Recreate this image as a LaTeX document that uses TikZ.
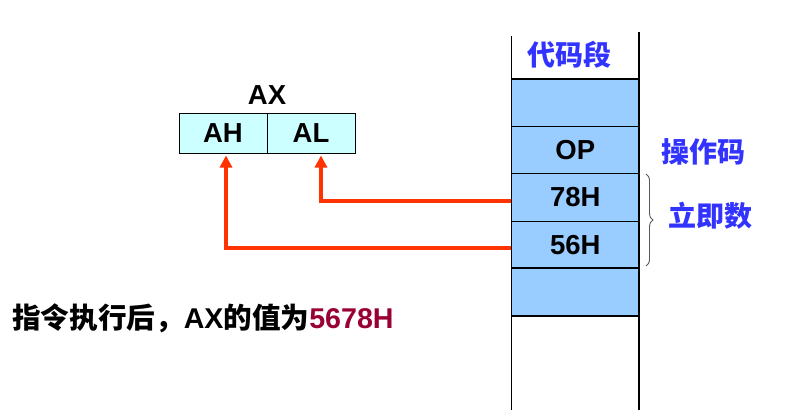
\documentclass[tikz,border=0pt]{standalone}
\usepackage{fontspec}
\setmainfont{Liberation Sans}
\newfontfamily\cjk{Noto Sans CJK SC}
\usetikzlibrary{arrows.meta,decorations.pathreplacing,calc}
\definecolor{cellblue}{HTML}{99CCFF}
\definecolor{axcyan}{HTML}{CCFFFF}
\definecolor{labelblue}{HTML}{3333FF}
\definecolor{arrowred}{HTML}{FF3300}
\definecolor{valred}{HTML}{990033}
\tikzset{
  cell/.style={draw=black, line width=1.3pt, fill=cellblue, minimum width=127.5pt, minimum height=47.4pt, inner sep=0pt, font=\fontsize{27.5}{30}\selectfont\bfseries},
  regbox/.style={draw=black, line width=1pt, fill=axcyan, minimum width=88pt, minimum height=40pt, inner sep=0pt, font=\fontsize{27.5}{30}\selectfont\bfseries},
  latinlabel/.style={inner sep=0pt, font=\fontsize{27.5}{30}\selectfont\bfseries},
  cjklabel/.style={inner sep=0pt, text=labelblue, font=\fontsize{28}{32}\selectfont\cjk\bfseries},
  redarrow/.style={draw=arrowred, line width=4pt, -{Triangle[width=12pt,length=12pt]}},
  colline/.style={draw=black, line width=1.5pt}
}
\begin{document}
\begin{tikzpicture}[x=1pt,y=-1pt]
\useasboundingbox (0,0) rectangle (791,415);
% memory column cells
\node[cell] (c1) at (575.25,102.7) {};
\node[cell] (c2) at (575.25,150.1) {OP};
\node[cell] (c3) at (575.25,197.5) {78H};
\node[cell] (c4) at (575.25,244.9) {56H};
\node[cell, line width=1.3pt] (c5) at (575.25,292.3) {};
\draw[black, line width=2.2pt] (c5.north west) -- (c5.north east);
% column side lines
\coordinate (lt) at (511.5,36);
\coordinate (lb) at (511.5,410);
\coordinate (rt) at (639,32);
\coordinate (rb) at (639,410);
\draw[colline] (lt) -- (lb);
\draw[colline] (rt) -- (rb);
% labels
\node[cjklabel] (seg) at (569,55) {代码段};
\node[cjklabel] (opc) at (703,152) {操作码};
\node[cjklabel] (imm) at (710,216) {立即数};
% brace
\coordinate (bt) at (646,174);
\coordinate (bb) at (646,266);
\draw[gray!70!black, line width=0.9pt, decorate, decoration={brace, amplitude=7pt}] (bt) -- (bb);
% AX register
\node[latinlabel] (ax) at (267,95) {AX};
\node[regbox] (ah) at (223,133) {AH};
\node[regbox] (al) at (311,133) {AL};
% arrows
\draw[redarrow] ([yshift=-3.5pt]c3.west) -| ([xshift=10pt,yshift=-2pt]al.south);
\draw[redarrow] ([yshift=-3.5pt]c4.west) -| ([xshift=3pt,yshift=-2pt]ah.south);
% bottom text
\node[anchor=west, inner sep=0pt, font=\fontsize{28.6}{32}\selectfont\bfseries] (res) at (12,318)
  {{\cjk 指令执行后，}AX{\cjk 的值为}{\color{valred}5678H}};
\end{tikzpicture}
\end{document}
